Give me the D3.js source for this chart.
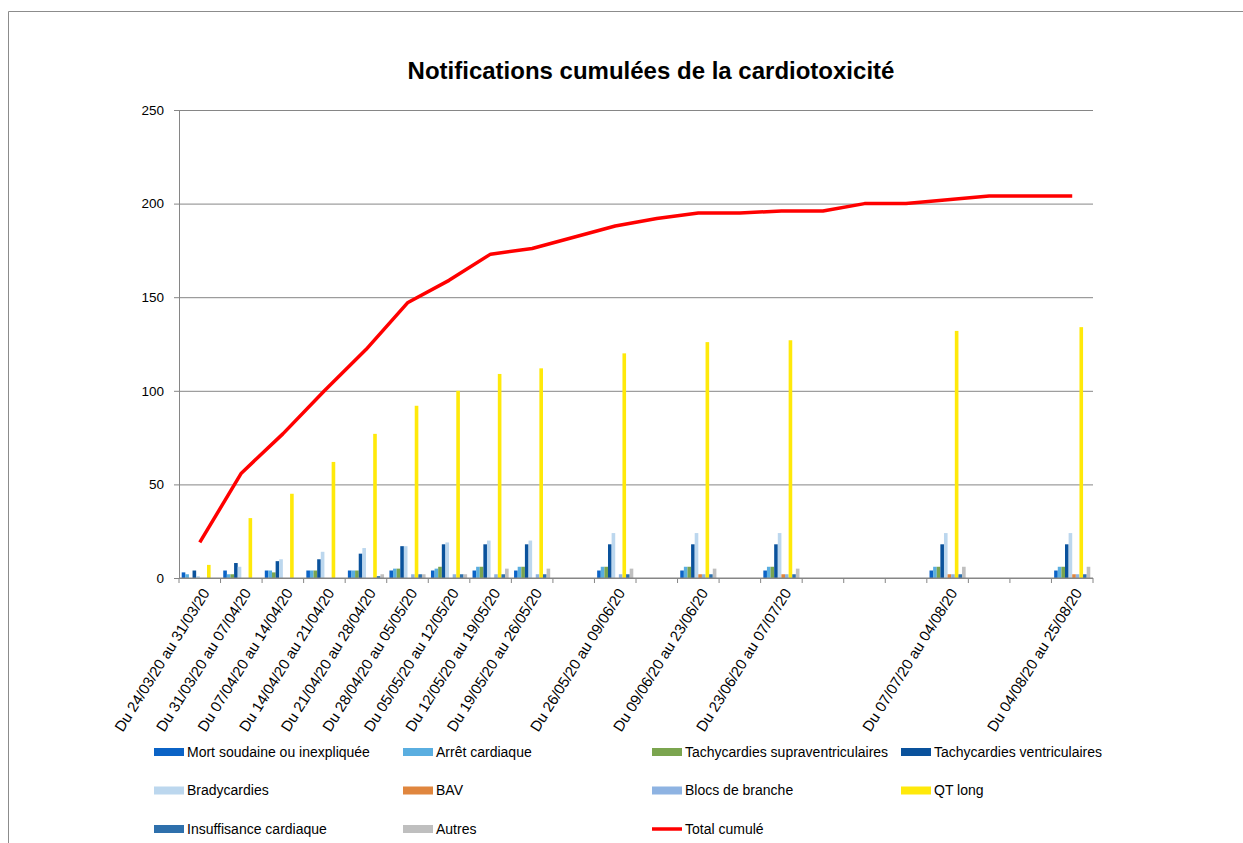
<!DOCTYPE html>
<html>
<head>
<meta charset="utf-8">
<script src="https://cdn.jsdelivr.net/npm/d3@7"></script>
<style>
  body { margin: 0; background: #fff; }
  text { font-family: "Liberation Sans", Arial, sans-serif; fill: #000; }
</style>
</head>
<body>
<script>
var w = 1243
var h = 843

// weekly slots, blank label where no notification report
var categories = ["Du 24/03/20 au 31/03/20", "Du 31/03/20 au 07/04/20", "Du 07/04/20 au 14/04/20",
    "Du 14/04/20 au 21/04/20", "Du 21/04/20 au 28/04/20", "Du 28/04/20 au 05/05/20",
    "Du 05/05/20 au 12/05/20", "Du 12/05/20 au 19/05/20", "Du 19/05/20 au 26/05/20", "",
    "Du 26/05/20 au 09/06/20", "", "Du 09/06/20 au 23/06/20", "", "Du 23/06/20 au 07/07/20",
    "", "", "", "Du 07/07/20 au 04/08/20", "", "", "Du 04/08/20 au 25/08/20"]

var mortSoudaine   = [3, 4, 4, 4, 4, 4, 4, 4, 4, null, 4, null, 4, null, 4, null, null, null, 4, null, null, 4]
var arretCardiaque = [2, 2, 4, 4, 4, 5, 5, 6, 6, null, 6, null, 6, null, 6, null, null, null, 6, null, null, 6]
var tachySupra     = [0, 2, 3, 4, 4, 5, 6, 6, 6, null, 6, null, 6, null, 6, null, null, null, 6, null, null, 6]
var tachyVentr     = [4, 8, 9, 10, 13, 17, 18, 18, 18, null, 18, null, 18, null, 18, null, null, null, 18, null, null, 18]
var bradycardies   = [1, 6, 10, 14, 16, 17, 19, 20, 20, null, 24, null, 24, null, 24, null, null, null, 24, null, null, 24]
var bav            = [0, 0, 0, 0, 0, 0, 0, 0, 0, null, 0, null, 2, null, 2, null, null, null, 2, null, null, 2]
var blocsBranche   = [0, 0, 0, 0, 0, 2, 2, 2, 2, null, 2, null, 2, null, 2, null, null, null, 2, null, null, 2]
var qtLong         = [7, 32, 45, 62, 77, 92, 100, 109, 112, null, 120, null, 126, null, 127, null, null, null, 132, null, null, 134]
var insuffisance   = [0, 0, 0, 0, 1, 2, 2, 2, 2, null, 2, null, 2, null, 2, null, null, null, 2, null, null, 2]
var autres         = [0, 0, 0, 0, 2, 2, 2, 5, 5, null, 5, null, 5, null, 5, null, null, null, 6, null, null, 6]

var totalCumule = [19, 56, 77, 100, 122, 147, 159, 173, 176, 182, 188, 192, 195, 195, 196, 196, 200, 200, 202, 204, 204, 204]

var yTicks = [0, 50, 100, 150, 200, 250]

var series = [
    { name: "Mort soudaine ou inexpliquée", values: mortSoudaine, color: "#0B63C6" },
    { name: "Arrêt cardiaque", values: arretCardiaque, color: "#5AAEE0" },
    { name: "Tachycardies supraventriculaires", values: tachySupra, color: "#7BA54F" },
    { name: "Tachycardies ventriculaires", values: tachyVentr, color: "#0A529C" },
    { name: "Bradycardies", values: bradycardies, color: "#BCD7EE" },
    { name: "BAV", values: bav, color: "#E0863E" },
    { name: "Blocs de branche", values: blocsBranche, color: "#8EB3E2" },
    { name: "QT long", values: qtLong, color: "#FFE90A" },
    { name: "Insuffisance cardiaque", values: insuffisance, color: "#2E70AC" },
    { name: "Autres", values: autres, color: "#BFBFBF" }
]

var margin = { left: 179, right: 150, top: 110, bottom: 265 }

var svg = d3.select("body")
    .append("svg")
    .attr("width", w)
    .attr("height", h)

// outer chart frame
svg.append("path")
    .attr("d", "M8.5," + h + "V11.5H" + w)
    .attr("fill", "none")
    .attr("stroke", "#8c8c8c")

svg.append("text")
    .attr("x", 651)
    .attr("y", 79)
    .attr("text-anchor", "middle")
    .style("font-size", "24px")
    .style("font-weight", "bold")
    .text("Notifications cumulées de la cardiotoxicité")

var x = d3.scaleBand()
    .domain(d3.range(categories.length))
    .range([margin.left, w - margin.right])

var x1 = d3.scaleBand()
    .domain(d3.range(series.length))
    .range([x.bandwidth() * 0.065, x.bandwidth() * 0.935])

var y = d3.scaleLinear()
    .domain([0, 250])
    .range([h - margin.bottom, margin.top])

// gridlines
svg.append("g")
    .attr("transform", "translate(" + margin.left + ",0)")
    .call(d3.axisLeft(y).tickValues(yTicks).tickSize(-(w - margin.right - margin.left)).tickFormat(""))
    .call(function (g) {
        g.select(".domain").remove()
        g.selectAll("line").attr("stroke", "#868686")
    })

// y axis
svg.append("g")
    .attr("transform", "translate(" + margin.left + ",0)")
    .call(d3.axisLeft(y).tickValues(yTicks).tickSize(5).tickPadding(10))
    .call(function (g) {
        g.select(".domain").attr("stroke", "#868686")
        g.selectAll("line").attr("stroke", "#868686")
        g.selectAll("text").style("font-size", "13.5px").style("font-family", "Liberation Sans, Arial, sans-serif")
    })

// bars
var groups = svg.selectAll("g.cat")
    .data(d3.range(categories.length))
    .enter()
    .append("g")
    .attr("class", "cat")
    .attr("transform", function (i) { return "translate(" + x(i) + ",0)" })

groups.selectAll("rect")
    .data(function (i) {
        return series.map(function (s, k) { return { k: k, v: s.values[i], color: s.color } })
            .filter(function (d) { return d.v != null && d.v > 0 })
    })
    .enter()
    .append("rect")
    .attr("x", function (d) { return x1(d.k) })
    .attr("width", x1.bandwidth())
    .attr("y", function (d) { return y(d.v) })
    .attr("height", function (d) { return y(0) - y(d.v) })
    .attr("fill", function (d) { return d.color })

// x axis
var xAxis = svg.append("g")
xAxis.append("line")
    .attr("x1", margin.left).attr("x2", w - margin.right)
    .attr("y1", y(0)).attr("y2", y(0))
    .attr("stroke", "#868686")
xAxis.selectAll("line.tick")
    .data(d3.range(categories.length + 1))
    .enter()
    .append("line")
    .attr("class", "tick")
    .attr("x1", function (i) { return i < categories.length ? x(i) : w - margin.right })
    .attr("x2", function (i) { return i < categories.length ? x(i) : w - margin.right })
    .attr("y1", y(0)).attr("y2", y(0) + 5)
    .attr("stroke", "#868686")

xAxis.selectAll("text")
    .data(categories)
    .enter()
    .append("text")
    .attr("transform", function (d, i) {
        return "translate(" + (x(i) + x.bandwidth() / 2 + 6) + "," + (y(0) + 12) + ") rotate(-58)"
    })
    .attr("text-anchor", "end")
    .attr("dy", "0.35em")
    .style("font-size", "15px")
    .text(function (d) { return d })

// cumulative total line
var line = d3.line()
    .x(function (d, i) { return x(i) + x.bandwidth() / 2 })
    .y(function (d) { return y(d) })

svg.append("path")
    .datum(totalCumule)
    .attr("d", line)
    .attr("fill", "none")
    .attr("stroke", "#FF0000")
    .attr("stroke-width", 3.5)
    .attr("stroke-linejoin", "round")

// legend
var legendItems = series.map(function (s) { return { name: s.name, color: s.color, type: "bar" } })
legendItems.push({ name: "Total cumulé", color: "#FF0000", type: "line" })

var legend = svg.selectAll("g.legend")
    .data(legendItems)
    .enter()
    .append("g")
    .attr("class", "legend")
    .attr("transform", function (d, i) {
        return "translate(" + (154 + (i % 4) * 249) + "," + (752 + Math.floor(i / 4) * 38.5) + ")"
    })

legend.each(function (d) {
    var g = d3.select(this)
    if (d.type == "bar") {
        g.append("rect").attr("x", 0).attr("y", -4).attr("width", 30).attr("height", 8).attr("fill", d.color)
    } else {
        g.append("line").attr("x1", 0).attr("x2", 30).attr("y1", 0).attr("y2", 0)
            .attr("stroke", d.color).attr("stroke-width", 3.5)
    }
    g.append("text")
        .attr("x", 33)
        .attr("dy", "0.35em")
        .style("font-size", "14px")
        .text(d.name)
})
</script>
</body>
</html>
